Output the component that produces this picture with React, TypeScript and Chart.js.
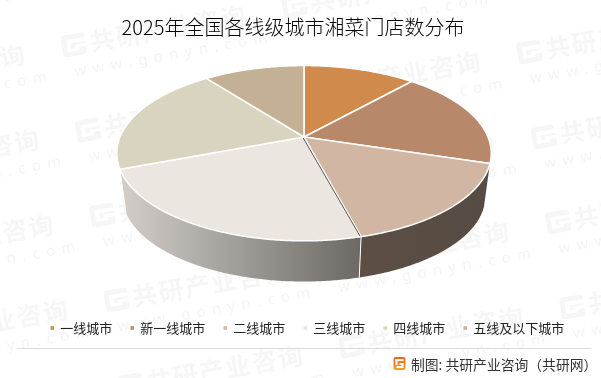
import React, { useEffect, useRef } from "react";
import { Chart, registerables } from "chart.js";

Chart.register(...registerables);

const TITLE = "2025年全国各线级城市湘菜门店数分布";
const FOOTER = "制图: 共研产业咨询（共研网）";
const WM_NAME = "共研产业咨询";
const WM_URL = "www.gonyn.com";
const CJK = '"Noto Sans CJK SC", "Noto Sans", sans-serif';

const categories = ["一线城市", "新一线城市", "二线城市", "三线城市", "四线城市", "五线及以下城市"];
const shares = [11.6, 18.2, 16.1, 23.3, 20.4, 10.4];
const faceColors = ["#d08a4c", "#b8886a", "#d2b6a4", "#ece6e1", "#d8d4bf", "#c4b195"];
const wallColors: (string[] | null)[] = [
  null,
  null,
  ["#5c4e44", "#564c43"],
  ["#d3cec9", "#6c6965"],
  null,
  null,
];

// Perspective of the tilted disc
const APEX_X = 304;
const APEX_Y = 137;
const PERSPECTIVE = 0.185;
const TILT = 0.46;
const BASE_SCALE = 0.968;
const DEPTH = 44;

function project(t: number, r: number, scale = 1, dy = 0) {
  const s = Math.sin(t);
  const w = 1 - PERSPECTIVE * s;
  return {
    x: APEX_X + (scale * r * Math.cos(t)) / w,
    y: APEX_Y + dy + (scale * r * TILT * s) / w,
  };
}

function tracePath(ctx: CanvasRenderingContext2D, a: number, b: number, r: number, scale = 1, dy = 0, move = false) {
  const n = Math.max(2, Math.ceil(Math.abs(b - a) / 0.01));
  for (let i = 0; i <= n; i++) {
    const p = project(a + ((b - a) * i) / n, r, scale, dy);
    if (i === 0 && move) ctx.moveTo(p.x, p.y);
    else ctx.lineTo(p.x, p.y);
  }
}

const watermark = {
  id: "watermark",
  beforeDraw(chart: any) {
    const ctx: CanvasRenderingContext2D = chart.ctx;
    ctx.save();
    for (let i = -2; i <= 5; i++) {
      for (let j = -2; j <= 3; j++) {
        const x = 62 + 14.3 * i + 235 * j;
        const y = 47 + 85 * i + 46 * j;
        if (x < -220 || x > 610 || y < -40 || y > 400) continue;
        ctx.save();
        ctx.translate(x, y);
        ctx.rotate((-10 * Math.PI) / 180);
        const ink = "#f6f6f6";
        ctx.fillStyle = ink;
        ctx.beginPath();
        (ctx as any).roundRect(0, -11, 24, 22, 4);
        ctx.fill();
        ctx.fillStyle = "#ffffff";
        ctx.fillRect(5, -6, 19, 4);
        ctx.fillRect(5, -2, 4, 8);
        ctx.fillRect(5, 3, 12, 3);
        ctx.fillRect(13, 0, 11, 3);
        ctx.fillStyle = ink;
        ctx.textBaseline = "middle";
        ctx.textAlign = "left";
        ctx.font = `700 25px ${CJK}`;
        (ctx as any).letterSpacing = "1.6px";
        ctx.fillText(WM_NAME, 28, 0);
        ctx.font = `400 15px "Noto Sans", sans-serif`;
        (ctx as any).letterSpacing = "6.5px";
        ctx.fillStyle = "#f4f4f4";
        ctx.fillText(WM_URL, 8, 27);
        (ctx as any).letterSpacing = "0px";
        ctx.restore();
      }
    }
    ctx.restore();
  },
};

const placement = {
  id: "placement",
  afterLayout(chart: any) {
    chart.titleBlock.left -= 15;
    chart.titleBlock.top = -1;
    chart.titleBlock.bottom = 50;
    const l = chart.legend;
    const h = l.bottom - l.top;
    l.top = 303;
    l.bottom = 303 + h;
    l.left += 7;
    l.right += 7;
  },
};

const disc3d = {
  id: "disc3d",
  beforeDatasetsDraw(chart: any) {
    const ctx: CanvasRenderingContext2D = chart.ctx;
    const arcs: any[] = chart.getDatasetMeta(0).data;
    ctx.save();
    arcs.forEach((arc, i) => {
      const wall = wallColors[i];
      if (!wall) return;
      const r = arc.outerRadius;
      const a = arc.startAngle;
      const b = arc.endAngle;
      const p0 = project(a, r);
      const p1 = project(b, r);
      const g = ctx.createLinearGradient(Math.min(p0.x, p1.x), 0, Math.max(p0.x, p1.x), 0);
      g.addColorStop(0, i === 3 ? wall[0] : wall[0]);
      g.addColorStop(1, wall[1]);
      ctx.beginPath();
      tracePath(ctx, a, b, r, 1, 0, true);
      tracePath(ctx, b, a, r, BASE_SCALE, DEPTH);
      ctx.closePath();
      ctx.fillStyle = g;
      ctx.fill();
      ctx.strokeStyle = "#ffffff";
      ctx.lineWidth = 1;
      ctx.beginPath();
      const q0 = project(a, r, BASE_SCALE, DEPTH);
      const q1 = project(b, r, BASE_SCALE, DEPTH);
      if (i === 3) {
        ctx.moveTo(p0.x, p0.y);
        ctx.lineTo(q0.x, q0.y);
        ctx.moveTo(p1.x, p1.y);
        ctx.lineTo(q1.x, q1.y);
      }
      ctx.stroke();
    });
    arcs.forEach((arc) => {
      const r = arc.outerRadius;
      const o = arc.options;
      ctx.beginPath();
      ctx.moveTo(APEX_X, APEX_Y);
      tracePath(ctx, arc.startAngle, arc.endAngle, r);
      ctx.closePath();
      ctx.fillStyle = o.backgroundColor;
      ctx.fill();
      ctx.lineJoin = "round";
      ctx.lineWidth = o.borderWidth;
      ctx.strokeStyle = o.borderColor;
      ctx.stroke();
    });
    // thin inner shadow along the front seam between the two walled slices
    const seam = arcs[2];
    const end = project(seam.endAngle, seam.outerRadius);
    ctx.beginPath();
    ctx.moveTo(APEX_X - 0.8, APEX_Y + 1);
    ctx.lineTo(end.x - 1, end.y - 0.5);
    ctx.strokeStyle = "#5f5750";
    ctx.lineWidth = 1;
    ctx.stroke();
    ctx.restore();
    return false;
  },
};

const footer = {
  id: "footer",
  afterDraw(chart: any) {
    const ctx: CanvasRenderingContext2D = chart.ctx;
    ctx.save();
    ctx.strokeStyle = "#dcdcdc";
    ctx.lineWidth = 1;
    ctx.beginPath();
    ctx.moveTo(17, 348.5);
    ctx.lineTo(591, 348.5);
    ctx.stroke();

    const g = ctx.createLinearGradient(0, 357, 0, 370);
    g.addColorStop(0, "#ef5f22");
    g.addColorStop(1, "#f9a51c");
    ctx.fillStyle = g;
    ctx.beginPath();
    (ctx as any).roundRect(393.5, 357, 12, 13, 2);
    ctx.fill();
    ctx.fillStyle = "#ffffff";
    ctx.fillRect(395.5, 359, 8, 2);
    ctx.fillRect(395.5, 359, 2, 6);
    ctx.fillRect(399.5, 363, 4, 2);
    ctx.fillRect(401.5, 363, 2, 5);
    ctx.fillRect(396.5, 366, 6, 2);

    ctx.fillStyle = "#333333";
    ctx.font = `13.8px ${CJK}`;
    ctx.textBaseline = "middle";
    ctx.textAlign = "left";
    ctx.fillText(FOOTER, 411, 365);
    ctx.restore();
  },
};

export default function App() {
  const ref = useRef<HTMLCanvasElement | null>(null);
  useEffect(() => {
    const chart = new Chart(ref.current as HTMLCanvasElement, {
      type: "pie",
      data: {
        labels: categories,
        datasets: [
          {
            data: shares,
            backgroundColor: faceColors,
            borderColor: "#ffffff",
            borderWidth: 1.5,
          },
        ],
      },
      options: {
        responsive: false,
        animation: false,
        events: [],
        radius: 184,
        plugins: {
          tooltip: { enabled: false },
          title: {
            display: true,
            text: TITLE,
            color: "#000000",
            font: { family: CJK, size: 20, weight: "300" },
            padding: { top: 16, bottom: 10 },
          },
          legend: {
            display: true,
            position: "bottom",
            labels: {
              usePointStyle: true,
              pointStyle: "rect",
              boxWidth: 3,
              boxHeight: 5,
              padding: 18.5,
              color: "#222222",
              font: { family: CJK, size: 13 },
            },
          },
        },
      } as any,
      plugins: [watermark, placement, disc3d, footer],
    });
    return () => chart.destroy();
  }, []);
  return (
    <div style={{ position: "absolute", left: 0, top: 0, width: 601, height: 378, background: "#ffffff" }}>
      <canvas ref={ref} width={601} height={378} style={{ display: "block" }} />
    </div>
  );
}
